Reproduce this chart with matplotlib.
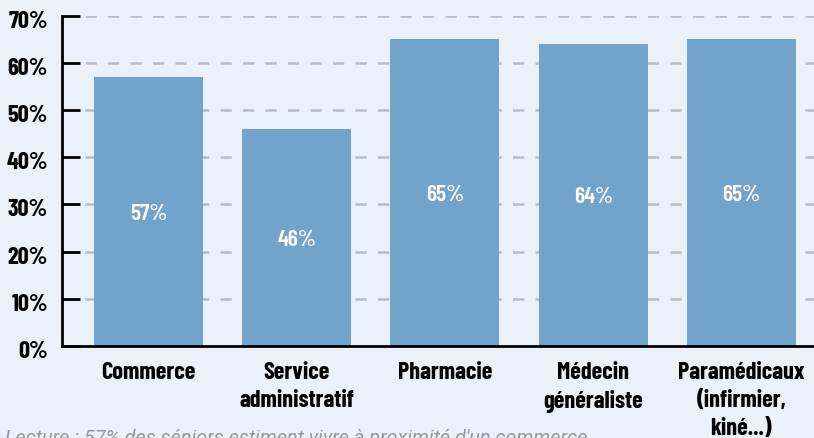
import matplotlib
matplotlib.use("Agg")
import matplotlib.pyplot as plt
from matplotlib import font_manager
from matplotlib.transforms import ScaledTranslation

categories = ["Commerce", "Service\nadministratif", "Pharmacie", "Médecin\ngénéraliste", "Paramédicaux\n(infirmier,\nkiné...)"]
values = [57, 46, 65, 64, 65]
ytick_values = [0, 10, 20, 30, 40, 50, 60, 70]
ytick_labels = ["0%", "10%", "20%", "30%", "40%", "50%", "60%", "70%"]
bar_labels = ["57%", "46%", "65%", "64%", "65%"]
footnote = "Lecture : 57% des séniors estiment vivre à proximité d'un commerce"

names = {f.name for f in font_manager.fontManager.ttflist}
prefs = ["Barlow Condensed", "Oswald", "Roboto Condensed", "Archivo Narrow", "PT Sans Narrow",
         "Encode Sans Condensed", "Saira SemiCondensed", "DejaVu Sans"]
main = [f for f in prefs if f in names][0]
plt.rcParams["font.family"] = [main, "DejaVu Sans"]
ital_prefs = ["Roboto", "Barlow", "Open Sans", "DejaVu Sans"]
ital = [f for f in ital_prefs if f in names][0]

bg = "#EAF1F9"
bar_color = "#71A3CB"
W, H = 814, 439
fig = plt.figure(figsize=(W / 100, H / 100), dpi=100, facecolor=bg)
left_px, right_px, top_px, bot_px = 61.7, 814, 16.7, 347
ax = fig.add_axes([left_px / W, 1 - bot_px / H, (right_px - left_px) / W, (bot_px - top_px) / H])
ax.set_facecolor(bg)

x = list(range(len(categories)))
xmin_axfrac = (85 - left_px) / (right_px - left_px)
for v in ytick_values[1:]:
    ax.axhline(v, xmin=xmin_axfrac, xmax=1, color="#B8BDC5", lw=1.8, dashes=(4.5, 4.5), zorder=1)

ax.bar(x, values, width=0.735, color=bar_color, zorder=2)
for xi, v, lab in zip(x, values, bar_labels):
    ax.text(xi, v / 2 - 0.3, lab, ha="center", va="center", color="white",
            fontsize=17, fontweight="semibold", zorder=3)

ax.set_xlim(-0.585, 4.49)
ax.set_ylim(0, 70)
ax.set_yticks(ytick_values)
ax.set_yticklabels([])
ax.set_xticks(x)
ax.set_xticklabels(categories, fontsize=17.5, fontweight="bold", linespacing=1.36)
ax.tick_params(axis="y", direction="in", length=13, width=2)
ax.tick_params(axis="x", length=0, pad=10.5)

ytrans = ax.get_yaxis_transform() + ScaledTranslation(-13.7 / 100, -5 / 100, fig.dpi_scale_trans)
for v, lab in zip(ytick_values, ytick_labels):
    ax.text(0, v, lab, transform=ytrans, ha="right", va="center", fontsize=17.5,
            fontweight="bold", clip_on=False)

for s in ["top", "right"]:
    ax.spines[s].set_visible(False)
for s in ["left", "bottom"]:
    ax.spines[s].set_linewidth(2)
    ax.spines[s].set_color("black")

fig.text(5 / W, 1 - 444 / H, footnote, fontsize=14.3, style="italic", color="#959AA0",
         ha="left", va="baseline", family=[ital, "DejaVu Sans"], fontweight="normal")

fig.savefig("out.png", dpi=100, facecolor=bg)
